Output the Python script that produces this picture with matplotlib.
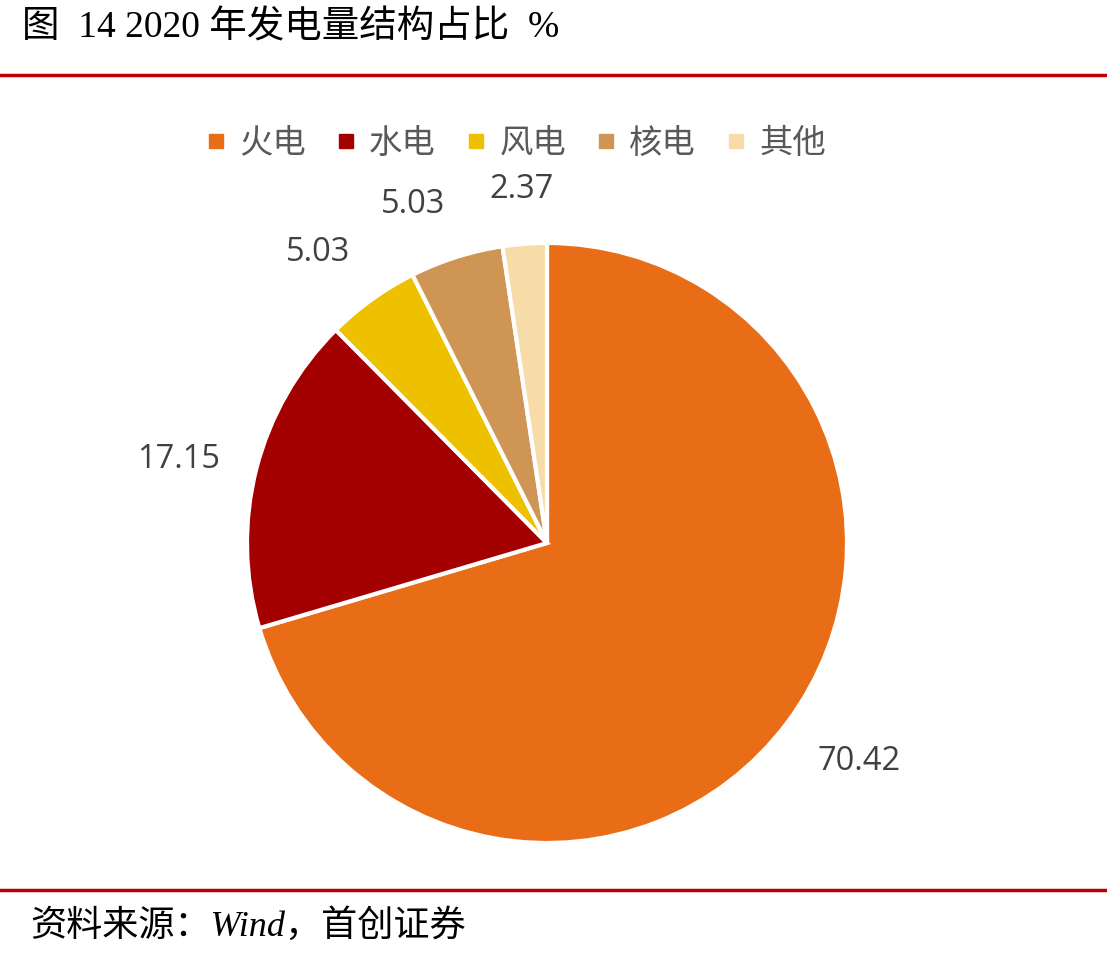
import matplotlib
matplotlib.use('Agg')
import numpy as np
import matplotlib.pyplot as plt
from matplotlib.lines import Line2D

# data
labels = ['火电', '水电', '风电', '核电', '其他']
shares = [70.42, 17.15, 5.03, 5.03, 2.37]
colors = ['#E96C17', '#A50000', '#EDC000', '#CF9555', '#F7DCAA']

title = '图  14 2020 年发电量结构占比  %'
source = '资料来源：Wind，首创证券'

plt.rcParams['font.family'] = ['Noto Sans CJK SC', 'DejaVu Sans']

W, H = 1107, 960
fig = plt.figure(figsize=(W / 100, H / 100), dpi=100)

# title and red rules
fig.text(22 / W, 1 - 28 / H, title, fontsize=27, va='center', ha='left',
         family=['Liberation Serif', 'Noto Sans CJK SC'], color='black')
fig.add_artist(Line2D([0, 1], [1 - 75 / H] * 2, color='#C00000', lw=2.5))
fig.add_artist(Line2D([0, 1], [1 - 890 / H] * 2, color='#C00000', lw=2.5))
fig.text(30 / W, 1 - 926 / H, source, fontsize=26, va='center', ha='left',
         family=['Liberation Serif', 'Noto Sans CJK SC'], style='italic', color='black')

# pie axes: centre (547, 543) px, radius 300 px
r = 300
cx, cy = 547, 543
ax = fig.add_axes([(cx - r) / W, (H - cy - r) / H, 2 * r / W, 2 * r / H])
wedges, texts = ax.pie(shares, colors=colors, startangle=90, counterclock=False,
                       labels=['%.2f' % v for v in shares], labeldistance=1.125,
                       wedgeprops=dict(edgecolor='white', linewidth=3))
# anchor labels like "outside end": align the near edge to the anchor point
for w, t in zip(wedges, texts):
    ang = np.deg2rad((w.theta1 + w.theta2) / 2)
    c, s = np.cos(ang), np.sin(ang)
    t.set_ha('left' if c > 0.25 else ('right' if c < -0.25 else 'center'))
    t.set_va('bottom' if s > 0.3 else ('top' if s < -0.3 else 'center'))
    t.set_fontsize(23.5)
    t.set_color('#404040')
    t.set_family(['Open Sans', 'DejaVu Sans'])
ax.set_xlim(-1, 1)
ax.set_ylim(-1, 1)
ax.axis('off')

# legend
handles = [Line2D([], [], marker='s', linestyle='none', markersize=10,
                  markerfacecolor=c, markeredgecolor=c) for c in colors]
fig.legend(handles, labels, loc='center', bbox_to_anchor=(516 / W, 1 - 143 / H),
           ncol=5, frameon=False, fontsize=24, labelcolor='#595959',
           handlelength=0.6, handletextpad=0.4, columnspacing=0.9)

fig.savefig('out.png', dpi=100)
